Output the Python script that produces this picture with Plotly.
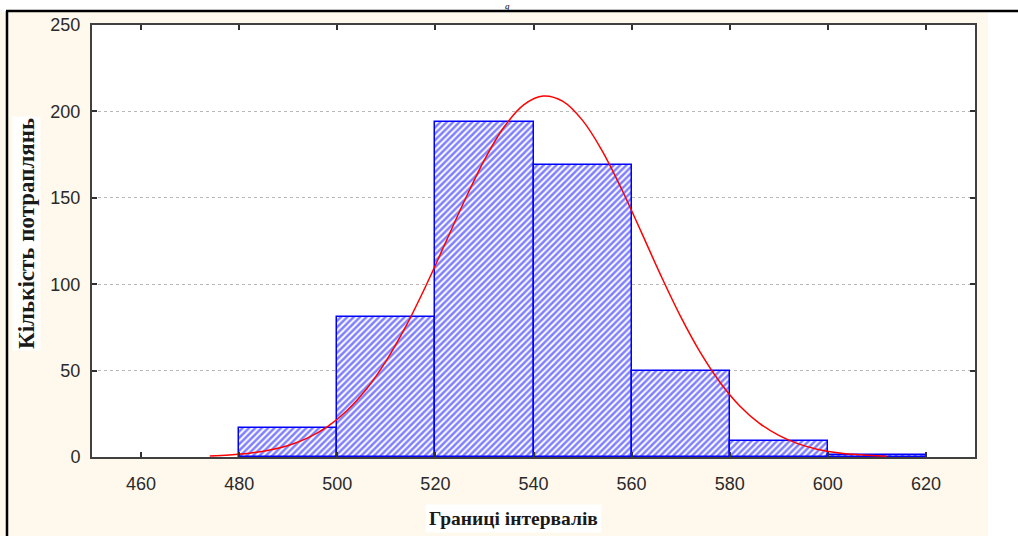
import plotly.graph_objects as go

# ---- data ----
bin_left = [480, 500, 520, 540, 560, 580, 600]
bin_width = 20
counts = [17, 81, 194, 169, 50, 9, 1]

curve_x = [474, 478, 482, 486, 490, 494, 498, 502, 506, 510, 514, 518, 522, 526,
           530, 534, 538, 542, 546, 550, 554, 558, 562, 566, 570, 574, 578, 582,
           586, 590, 594, 598, 602, 606, 610, 612]
curve_y = [0.6, 1.2, 2.2, 3.9, 6.7, 11.1, 17.6, 26.9, 39.5, 55.8, 75.7, 98.7, 123.6, 148.7,
           172.0, 191.0, 203.8, 208.9, 205.8, 194.8, 177.2, 154.8, 130.0, 104.8, 81.2, 60.5, 43.3, 29.7,
           19.6, 12.5, 7.6, 4.4, 2.5, 1.4, 0.7, 0.5]

x_ticks = [460, 480, 500, 520, 540, 560, 580, 600, 620]
y_ticks = [0, 50, 100, 150, 200, 250]
x_title = "Границі інтервалів"
y_title = "Кількість потраплянь"

CREAM = "#FFF8EC"

fig = go.Figure()
fig.add_trace(go.Bar(
    x=[b + bin_width / 2 for b in bin_left],
    y=counts,
    width=bin_width,
    marker=dict(
        color="white",
        line=dict(color="#0000FF", width=1.5),
        pattern=dict(shape="/", fgcolor="#0000FF", bgcolor="white",
                     size=4.5, solidity=0.55),
    ),
    showlegend=False,
    hoverinfo="skip",
))
fig.add_trace(go.Scatter(
    x=curve_x, y=curve_y, mode="lines",
    line=dict(color="#FF0000", width=1.5, shape="spline"),
    showlegend=False,
))

L, R, T, B = 92, 43, 25, 79
W, H = 1018, 536
pw, ph = W - L - R, H - T - B


def px(xp):
    return (xp - L) / pw


def py(yp):
    return (H - B - yp) / ph


fig.update_layout(
    width=W, height=H,
    margin=dict(l=L, r=R, t=T, b=B),
    paper_bgcolor=CREAM,
    plot_bgcolor="white",
    bargap=0,
    font=dict(family="Liberation Sans, Arial", size=18, color="#2a2a2a"),
    xaxis=dict(
        range=[450, 630], tickvals=x_ticks, ticktext=[str(v) for v in x_ticks],
        showgrid=False, zeroline=False, layer="above traces",
        showline=True, linecolor="#404040", linewidth=2, mirror="allticks",
        ticks="inside", ticklen=5, tickwidth=2, tickcolor="#303030",
        ticklabelstandoff=9,
    ),
    yaxis=dict(
        range=[0, 250], tickvals=y_ticks,
        showgrid=True, gridcolor="#b8b8b8", griddash="dot", gridwidth=1,
        zeroline=False, layer="above traces",
        showline=True, linecolor="#404040", linewidth=2, mirror="allticks",
        ticks="inside", ticklen=5, tickwidth=2, tickcolor="#303030",
        ticklabelstandoff=6,
    ),
    shapes=[
        # white area right of the page
        dict(type="rect", xref="paper", yref="paper", x0=px(988), x1=px(1030),
             y0=py(560), y1=py(-20), fillcolor="white", line=dict(width=0), layer="below"),
        # white area above the page
        dict(type="rect", xref="paper", yref="paper", x0=px(-20), x1=px(1030),
             y0=py(12), y1=py(-20), fillcolor="white", line=dict(width=0), layer="below"),
        # page frame lines
        dict(type="line", xref="paper", yref="paper", x0=px(7), x1=px(7),
             y0=py(560), y1=py(11), line=dict(color="black", width=2.5)),
        dict(type="line", xref="paper", yref="paper", x0=px(6), x1=px(1030),
             y0=py(11), y1=py(11), line=dict(color="black", width=2.5)),
    ],
    annotations=[
        dict(text="<b>" + x_title + "</b>", xref="paper", yref="paper",
             x=px(513), y=py(518), xanchor="center", yanchor="middle",
             showarrow=False, bgcolor="white", borderpad=3,
             font=dict(family="Liberation Serif, Times New Roman", size=19.5, color="#1a1a1a")),
        dict(text="<b>" + y_title + "</b>", xref="paper", yref="paper",
             x=px(26), y=py(234), xanchor="center", yanchor="middle", textangle=-90,
             showarrow=False, bgcolor="white", borderpad=1,
             font=dict(family="Liberation Serif, Times New Roman", size=23, color="#1a1a1a")),
        dict(text="<i>g</i>", xref="paper", yref="paper",
             x=px(507), y=py(0), xanchor="center", yanchor="top",
             showarrow=False, borderpad=0,
             font=dict(family="Liberation Serif, Times New Roman", size=9, color="black")),
    ],
)

fig.write_html("out.html")
